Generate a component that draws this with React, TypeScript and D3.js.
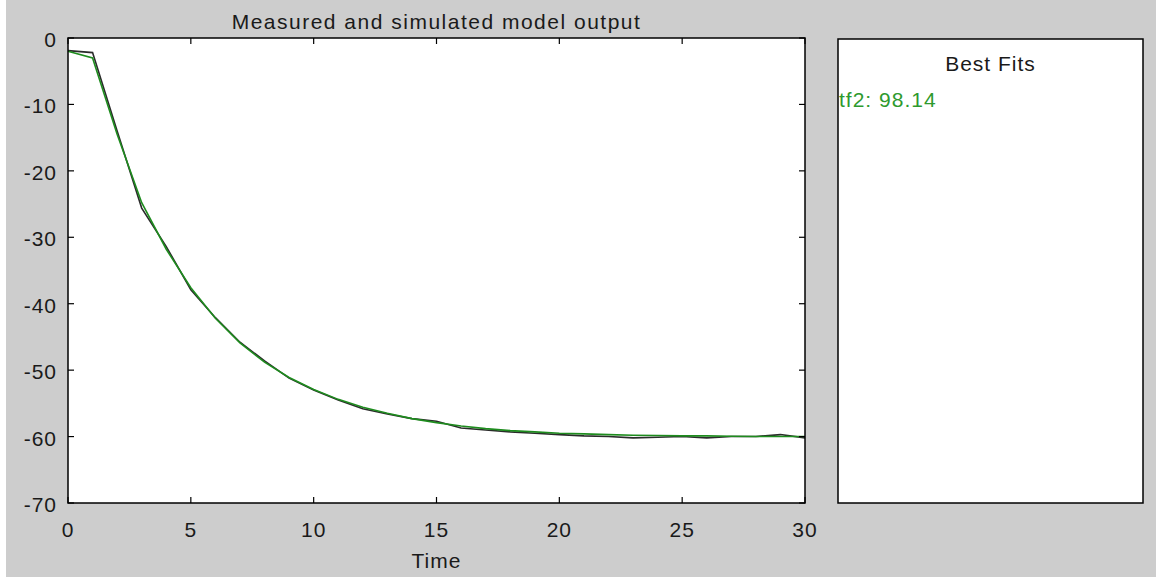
import React from "react";
import * as d3 from "d3";

const timeSteps: number[] = [0,1,2,3,4,5,6,7,8,9,10,11,12,13,14,15,16,17,18,19,20,21,22,23,24,25,26,27,28,29,30];
const measured: number[] = [-1.9,-2.2,-14.0,-25.6,-31.4,-37.9,-42.1,-45.8,-48.6,-51.2,-53.0,-54.5,-55.8,-56.6,-57.3,-57.7,-58.7,-59.0,-59.3,-59.5,-59.7,-59.9,-60.0,-60.2,-60.1,-60.0,-60.2,-60.0,-60.0,-59.7,-60.2];
const simulated: number[] = [-2.0,-3.0,-14.5,-24.8,-31.8,-37.6,-42.2,-45.9,-48.8,-51.1,-52.9,-54.4,-55.6,-56.5,-57.3,-57.9,-58.4,-58.8,-59.1,-59.3,-59.5,-59.6,-59.7,-59.8,-59.85,-59.9,-59.9,-59.95,-60.0,-60.0,-60.0];
const xTicks: number[] = [0,5,10,15,20,25,30];
const yTicks: number[] = [0,-10,-20,-30,-40,-50,-60,-70];
const titleText = "Measured and simulated model output";
const xLabel = "Time";
const panelTitle = "Best Fits";
const fitLabel = "tf2: 98.14";

const W = 1156, H = 578;
const plot = { left: 68, right: 805, top: 38, bottom: 503 };
const panel = { left: 838, right: 1143, top: 39, bottom: 503 };
const FONT = "'Liberation Sans', Arial, Helvetica, sans-serif";

export default function App() {
  const x = d3.scaleLinear().domain([0, 30]).range([plot.left, plot.right]);
  const y = d3.scaleLinear().domain([-70, 0]).range([plot.bottom, plot.top]);
  const line = d3.line<number>().x((_, i) => x(timeSteps[i])).y((d) => y(d));
  const tickLen = 6;
  const textColor = "#1a1a1a";
  return (
    <svg width={W} height={H} style={{ position: "absolute", left: 0, top: 0 }} fontFamily={FONT}>
      <rect x={0} y={0} width={W} height={H} fill="#ffffff" />
      <rect x={6} y={0} width={W - 6} height={577} fill="#cdcdcd" />
      {/* main axes */}
      <rect x={plot.left} y={plot.top} width={plot.right - plot.left} height={plot.bottom - plot.top} fill="#ffffff" />
      <path d={line(measured) || ""} fill="none" stroke="#2b2b2b" strokeWidth={1.6} />
      <path d={line(simulated) || ""} fill="none" stroke="#1e8c1e" strokeWidth={1.6} />
      {xTicks.map((t) => (
        <g key={"x" + t}>
          <line x1={x(t)} x2={x(t)} y1={plot.bottom} y2={plot.bottom - tickLen} stroke="#000" strokeWidth={1.2} />
          <line x1={x(t)} x2={x(t)} y1={plot.top} y2={plot.top + tickLen} stroke="#000" strokeWidth={1.2} />
          <text x={x(t)} y={537} textAnchor="middle" fontSize={21} letterSpacing={1} fill={textColor}>{t}</text>
        </g>
      ))}
      {yTicks.map((t) => (
        <g key={"y" + t}>
          <line x1={plot.left} x2={plot.left + tickLen} y1={y(t)} y2={y(t)} stroke="#000" strokeWidth={1.2} />
          <line x1={plot.right} x2={plot.right - tickLen} y1={y(t)} y2={y(t)} stroke="#000" strokeWidth={1.2} />
          <text x={57} y={y(t) + 9} textAnchor="end" fontSize={21} letterSpacing={1} fill={textColor}>{t}</text>
        </g>
      ))}
      <rect x={plot.left} y={plot.top} width={plot.right - plot.left} height={plot.bottom - plot.top} fill="none" stroke="#000" strokeWidth={1.5} />
      <text x={(plot.left + plot.right) / 2} y={29} textAnchor="middle" fontSize={21} letterSpacing={1.5} fill={textColor}>{titleText}</text>
      <text x={(plot.left + plot.right) / 2} y={568} textAnchor="middle" fontSize={21} letterSpacing={1} fill={textColor}>{xLabel}</text>
      {/* best fits panel */}
      <rect x={panel.left} y={panel.top} width={panel.right - panel.left} height={panel.bottom - panel.top} fill="#ffffff" stroke="#000" strokeWidth={1.5} />
      <text x={(panel.left + panel.right) / 2} y={71} textAnchor="middle" fontSize={21} letterSpacing={1} fill={textColor}>{panelTitle}</text>
      <text x={839} y={107} textAnchor="start" fontSize={21} letterSpacing={1} fill="#2e9a2e">{fitLabel}</text>
    </svg>
  );
}
